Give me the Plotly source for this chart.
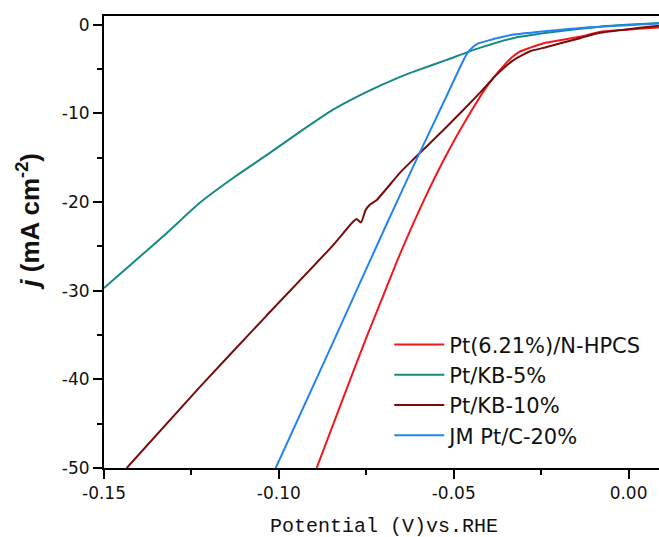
import plotly.graph_objects as go

# ---------------- data ----------------
names = ["Pt(6.21%)/N-HPCS", "Pt/KB-5%", "Pt/KB-10%", "JM Pt/C-20%"]
colors = ["#F2171B", "#138A84", "#7A0C0C", "#2384F0"]

red_x = [-0.0892, -0.0820, -0.0749, -0.0700, -0.0654, -0.0583, -0.0520, -0.0463,
         -0.0406, -0.0370, -0.0340, -0.0310, -0.0283, -0.0234, -0.0139, -0.0082, 0.0087]
red_y = [-50.0, -42.5, -35.2, -30.4, -25.9, -19.6, -14.6, -10.6,
         -7.0, -5.2, -3.9, -3.0, -2.6, -2.0, -1.35, -0.8, -0.3]

teal_x = [-0.1500, -0.1419, -0.1321, -0.1227, -0.1132, -0.1035, -0.0941, -0.0846,
          -0.0750, -0.0655, -0.0616, -0.0520, -0.0426, -0.0330, -0.0234, -0.0139,
          -0.0082, 0.0087]
teal_y = [-29.7, -26.9, -23.5, -20.1, -17.3, -14.7, -12.1, -9.6,
          -7.6, -5.9, -5.3, -3.95, -2.6, -1.5, -0.9, -0.45,
          -0.2, 0.2]

dred_x = [-0.1435, -0.1227, -0.1035, -0.0846, -0.0790, -0.0778, -0.0765, -0.0752,
          -0.0740, -0.0720, -0.0654, -0.0616, -0.0520, -0.0426, -0.0377, -0.0330,
          -0.0283, -0.0234, -0.0139, -0.0082, 0.0087]
dred_y = [-50.0, -40.9, -32.8, -24.9, -22.3, -21.9, -22.3, -20.9,
          -20.3, -19.75, -16.7, -15.2, -11.5, -7.7, -5.6, -4.0,
          -3.0, -2.5, -1.5, -0.9, -0.1]

blue_x = [-0.1009, -0.0846, -0.0692, -0.0616, -0.0520, -0.0463, -0.0445,
          -0.0430, -0.0400, -0.0377, -0.0330, -0.0234, -0.0139, 0.0087]
blue_y = [-50.0, -35.9, -22.5, -16.0, -8.0, -3.3, -2.5,
          -2.1, -1.75, -1.5, -1.1, -0.7, -0.35, 0.15]

series_x = [red_x, teal_x, dred_x, blue_x]
series_y = [red_y, teal_y, dred_y, blue_y]

x_tickvals = [-0.15, -0.10, -0.05, 0.00]
x_ticktext = ["-0.15", "-0.10", "-0.05", "0.00"]
y_tickvals = [-50, -40, -30, -20, -10, 0]
y_ticktext = ["-50", "-40", "-30", "-20", "-10", "0"]

# ---------------- figure ----------------
fig = go.Figure()
for xs, ys, nm, col in zip(series_x, series_y, names, colors):
    fig.add_trace(go.Scatter(
        x=xs, y=ys, name=nm, mode="lines",
        line=dict(color=col, width=2, shape="spline", smoothing=0.5),
    ))

tickfont = dict(family="DejaVu Sans", size=17, color="#111111")
fig.update_layout(
    width=659, height=537,
    margin=dict(l=104, r=0, t=16, b=69, pad=0, autoexpand=False),
    paper_bgcolor="white", plot_bgcolor="white",
    showlegend=True,
    legend=dict(
        x=0.514, y=0.318, xanchor="left", yanchor="top",
        font=dict(family="DejaVu Sans", size=21, color="#111111"),
        bgcolor="rgba(0,0,0,0)", borderwidth=0,
        itemwidth=50, tracegroupgap=0,
    ),
    xaxis=dict(
        range=[-0.15, 0.0087], showgrid=False, zeroline=False, automargin=False,
        showline=True, linecolor="black", linewidth=2, mirror=True,
        ticks="outside", ticklen=9, tickwidth=2, tickcolor="black",
        tickmode="array", tickvals=x_tickvals, ticktext=x_ticktext,
        tickfont=tickfont,
        minor=dict(ticks="outside", ticklen=5, tickwidth=2, tickcolor="black",
                   dtick=0.025, tick0=-0.15),
    ),
    yaxis=dict(
        range=[-50, 1.0], showgrid=False, zeroline=False, automargin=False,
        showline=True, linecolor="black", linewidth=2,
        ticks="outside", ticklen=9, tickwidth=2, tickcolor="black",
        tickmode="array", tickvals=y_tickvals, ticktext=y_ticktext,
        tickfont=tickfont,
        minor=dict(ticks="outside", ticklen=5, tickwidth=2, tickcolor="black",
                   dtick=5, tick0=0),
    ),
    annotations=[
        dict(text="Potential (V)vs.RHE", xref="paper", yref="paper",
             x=0.5045, y=-0.129, xanchor="center", yanchor="middle",
             showarrow=False,
             font=dict(family="Liberation Mono", size=20, color="#111111")),
        dict(text="<b><i>j</i> (mA cm<sup>-2</sup>)</b>", xref="paper", yref="paper",
             x=-0.135, y=0.545, xanchor="center", yanchor="middle",
             textangle=-90, showarrow=False,
             font=dict(family="Liberation Sans", size=26, color="#111111")),
    ],
)

fig.write_html("out.html")
